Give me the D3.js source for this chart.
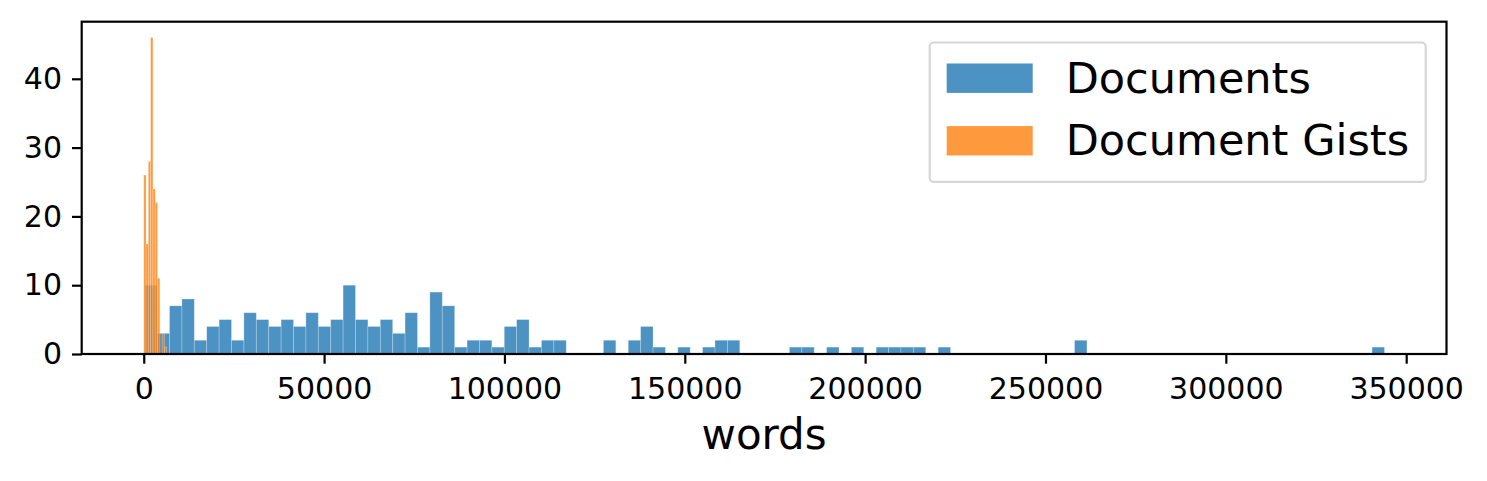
<!DOCTYPE html>
<html>
<head>
<meta charset="utf-8">
<script src="https://cdn.jsdelivr.net/npm/d3@7"></script>
<style>
  body { margin: 0; background: #fff; }
  text { font-family: "DejaVu Sans", sans-serif; fill: #000; }
</style>
</head>
<body>
<div id="hist"></div>
<script>
// histogram bins for the documents (100 bins)
var docStart = 277,
    docBinWidth = 3437;
var docCounts = [
  10, 3, 7, 8, 2, 4, 5, 2, 6, 5,
  4, 5, 4, 6, 4, 5, 10, 5, 4, 5,
  3, 6, 1, 9, 7, 1, 2, 2, 1, 4,
  5, 1, 2, 2, 0, 0, 0, 2, 0, 2,
  4, 1, 0, 1, 0, 1, 2, 2, 0, 0,
  0, 0, 1, 1, 0, 1, 0, 1, 0, 1,
  1, 1, 1, 0, 1, 0, 0, 0, 0, 0,
  0, 0, 0, 0, 0, 2, 0, 0, 0, 0,
  0, 0, 0, 0, 0, 0, 0, 0, 0, 0,
  0, 0, 0, 0, 0, 0, 0, 0, 0, 1
];

// histogram bins for the gists (10 bins)
var gistStart = 0,
    gistBinWidth = 638;
var gistCounts = [26, 16, 28, 46, 24, 22, 11, 0, 3, 1];

var seriesNames = ["Documents", "Document Gists"];
var seriesColors = ["#1f77b4", "#ff7f0e"];

var xTicks = [0, 50000, 100000, 150000, 200000, 250000, 300000, 350000];
var yTicks = [0, 10, 20, 30, 40];
var xLabel = "words";

// set the dimensions and margins of the graph
var margin = {top: 21.7, right: 40.5, bottom: 127, left: 81.7},
    width = 1487 - margin.left - margin.right,
    height = 481 - margin.top - margin.bottom;

function makeBins(start, w, counts) {
  return counts.map(function(c, i) {
    return {x0: start + i * w, x1: start + (i + 1) * w, n: c};
  });
}
var docBins = makeBins(docStart, docBinWidth, docCounts);
var gistBins = makeBins(gistStart, gistBinWidth, gistCounts);

// set the ranges (matplotlib style 5% margin on x, 5% headroom on y)
var lo = Math.min(docBins[0].x0, gistBins[0].x0),
    hi = Math.max(docBins[docBins.length - 1].x1, gistBins[gistBins.length - 1].x1),
    pad = (hi - lo) * 0.05;
var x = d3.scaleLinear().domain([lo - pad, hi + pad]).range([0, width]);
var y = d3.scaleLinear()
    .domain([0, d3.max(docCounts.concat(gistCounts)) * 1.05])
    .range([height, 0]);

var svg = d3.select("#hist").append("svg")
    .attr("width", 1487)
    .attr("height", 481)
  .append("g")
    .attr("transform", "translate(" + margin.left + "," + margin.top + ")");

// draw both histograms, gists on top
[docBins, gistBins].forEach(function(bins, k) {
  svg.append("g")
    .selectAll("rect")
    .data(bins.filter(function(d) { return d.n > 0; }))
    .enter().append("rect")
      .attr("x", function(d) { return x(d.x0); })
      .attr("width", function(d) { return x(d.x1) - x(d.x0); })
      .attr("y", function(d) { return y(d.n); })
      .attr("height", function(d) { return y(0) - y(d.n); })
      .attr("fill", seriesColors[k])
      .attr("fill-opacity", 0.8)
      .attr("stroke", "#fff")
      .attr("stroke-opacity", 0.3)
      .attr("stroke-width", 0.8);
});

// x axis
var xAxis = svg.append("g")
    .attr("transform", "translate(0," + height + ")")
    .call(d3.axisBottom(x).tickValues(xTicks).tickFormat(d3.format("d"))
      .tickSize(9.7).tickSizeOuter(0).tickPadding(14));
xAxis.select(".domain").remove();
xAxis.selectAll("line").attr("stroke", "#000").attr("stroke-width", 2.2);
xAxis.selectAll("text").style("font-size", "30px").attr("font-family", null);

// y axis
var yAxis = svg.append("g")
    .call(d3.axisLeft(y).tickValues(yTicks).tickFormat(d3.format("d"))
      .tickSize(9.7).tickSizeOuter(0).tickPadding(10));
yAxis.select(".domain").remove();
yAxis.selectAll("line").attr("stroke", "#000").attr("stroke-width", 2.2);
yAxis.selectAll("text").style("font-size", "30px").attr("font-family", null);

// the frame
svg.append("rect")
    .attr("width", width)
    .attr("height", height)
    .attr("fill", "none")
    .attr("stroke", "#000")
    .attr("stroke-width", 2.2);

// x label
svg.append("text")
    .attr("x", width / 2)
    .attr("y", height + 95.3)
    .attr("text-anchor", "middle")
    .style("font-size", "42px")
    .text(xLabel);

// legend
var fs = 43;
var legend = svg.append("g")
    .attr("transform", "translate(" + (width - 20.8 - 496) + "," + 20.8 + ")");
legend.append("rect")
    .attr("width", 496)
    .attr("height", 139.4)
    .attr("rx", 4)
    .attr("fill", "#fff")
    .attr("fill-opacity", 0.8)
    .attr("stroke", "#ccc")
    .attr("stroke-opacity", 0.8)
    .attr("stroke-width", 2.2);

seriesNames.forEach(function(name, i) {
  var row = legend.append("g")
      .attr("transform", "translate(0," + (i * 62.6) + ")");
  row.append("rect")
      .attr("x", 17)
      .attr("y", 21)
      .attr("width", 86)
      .attr("height", 29.4)
      .attr("fill", seriesColors[i])
      .attr("fill-opacity", 0.8);
  row.append("text")
      .attr("x", 136)
      .attr("y", 50.2)
      .style("font-size", fs + "px")
      .text(name);
});
</script>
</body>
</html>
